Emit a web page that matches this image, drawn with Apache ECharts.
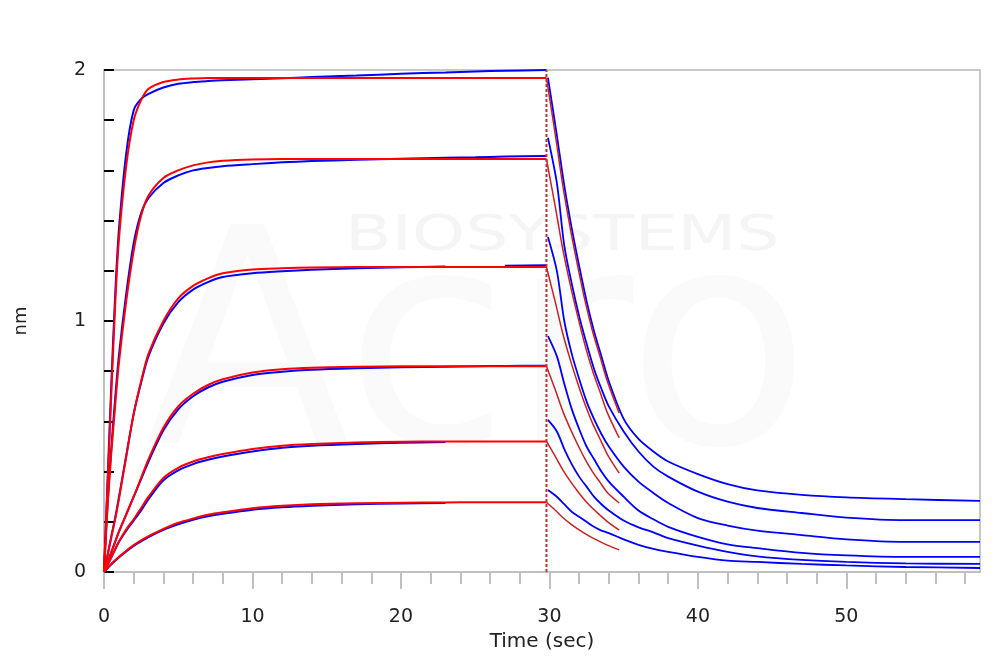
<!DOCTYPE html>
<html>
<head>
<meta charset="utf-8">
<script src="https://cdn.jsdelivr.net/npm/echarts@6/dist/echarts.min.js"></script>
<style>html,body{margin:0;padding:0;background:#fff}#c{width:1000px;height:669px}</style>
</head>
<body>
<div id="c"></div>
<script>
// ---- axis ticks / labels ----
const xMajorTicks = [0, 10, 20, 30, 40, 50];
const xMinorTicks = [0,2,4,6,8,10,12,14,16,18,20,22,24,26,28,30,32,34,36,38,40,42,44,46,48,50,52,54,56,58];
const yTickValues = [0,0.2,0.4,0.6,0.8,1,1.2,1.4,1.6,1.8,2];
const yLabelValues = [0, 1, 2];

// ---- association phase (time, sec) ----
const assocTime = [0,0.25,0.5,0.75,1,1.5,2,2.5,3,4,5,6,7,8,10,12,14,17,20,23,25,27,29.8];
// fitted (red)
const fitA1 = [0,0.36,0.72,1.06,1.32,1.62,1.80,1.88,1.925,1.952,1.962,1.966,1.968,1.968,1.968,1.968,1.968,1.968,1.968,1.968,1.968,1.968,1.968];
const fitA2 = [0,0.27,0.48,0.66,0.83,1.08,1.28,1.42,1.50,1.57,1.60,1.62,1.632,1.638,1.643,1.645,1.645,1.645,1.645,1.645,1.645,1.645,1.645];
const fitA3 = [0,0.07,0.14,0.21,0.29,0.46,0.63,0.76,0.87,1.00,1.09,1.14,1.17,1.19,1.205,1.21,1.213,1.215,1.215,1.215,1.215,1.215,1.215];
const fitA4 = [0,0.04,0.08,0.12,0.16,0.23,0.30,0.375,0.45,0.575,0.66,0.71,0.745,0.768,0.795,0.808,0.814,0.818,0.82,0.82,0.82,0.82,0.82];
const fitA5 = [0,0.03,0.06,0.09,0.12,0.17,0.21,0.255,0.30,0.375,0.415,0.44,0.457,0.47,0.49,0.503,0.51,0.516,0.519,0.52,0.52,0.52,0.52];
const fitA6 = [0,0.017,0.033,0.047,0.06,0.085,0.107,0.126,0.143,0.172,0.196,0.213,0.228,0.238,0.254,0.264,0.27,0.274,0.276,0.277,0.278,0.278,0.278];
// measured (blue)
const dataA1 = [0,0.38,0.76,1.10,1.36,1.67,1.84,1.885,1.905,1.93,1.945,1.952,1.956,1.959,1.963,1.967,1.972,1.978,1.985,1.99,1.994,1.997,2.0];
const dataA2 = [0,0.28,0.50,0.69,0.86,1.11,1.31,1.43,1.49,1.55,1.58,1.60,1.61,1.617,1.625,1.632,1.637,1.642,1.646,1.65,1.652,1.655,1.657];
const dataA3 = [0,0.07,0.145,0.215,0.295,0.465,0.63,0.755,0.86,0.99,1.075,1.125,1.155,1.175,1.19,1.198,1.204,1.21,1.214,1.217,null,1.22,1.222];
const dataA4 = [0,0.04,0.08,0.12,0.16,0.23,0.30,0.37,0.44,0.565,0.648,0.70,0.735,0.758,0.785,0.798,0.806,0.812,0.816,0.818,0.82,0.821,0.822];
const dataA5 = [0,0.03,0.06,0.09,0.12,0.165,0.205,0.245,0.29,0.365,0.405,0.43,0.447,0.46,0.48,0.495,0.503,0.51,0.515,0.518,null,null,null];
const dataA6 = [0,0.016,0.031,0.045,0.058,0.082,0.104,0.122,0.139,0.168,0.19,0.208,0.222,0.232,0.248,0.258,0.264,0.27,0.273,0.275,null,null,null];

// ---- dissociation phase ----
const fitDTime = [29.8,30.4,30.9,31.4,31.9,32.4,32.9,33.4,33.9,34.7];
const fitD1 = [1.968,1.74,1.54,1.37,1.22,1.08,0.96,0.86,0.76,0.633];
const fitD2 = [1.645,1.454,1.286,1.145,1.02,0.903,0.803,0.719,0.635,0.534];
const fitD3 = [1.215,1.074,0.95,0.846,0.753,0.667,0.593,0.531,0.469,0.394];
const fitD4 = [0.82,0.725,0.641,0.571,0.508,0.45,0.40,0.358,0.317,0.275];
const fitD5 = [0.52,0.46,0.407,0.362,0.322,0.285,0.254,0.227,0.201,0.167];
const fitD6 = [0.278,0.246,0.217,0.193,0.172,0.153,0.136,0.121,0.107,0.088];

const dataDTime = [29.9,30.5,31,31.5,32,32.5,33,33.5,34,35,36,37,38,40,42,44,47,50,54,59];
const dataD1 = [1.97,1.74,1.54,1.37,1.22,1.08,0.96,0.86,0.76,0.61,0.53,0.48,0.44,0.39,0.35,0.325,0.307,0.297,0.29,0.283];
const dataD2 = [1.73,1.55,1.30,1.15,1.02,0.91,0.81,0.73,0.66,0.56,0.48,0.42,0.38,0.32,0.28,0.255,0.235,0.217,0.207,0.207];
const dataD3 = [1.335,1.20,1.00,0.87,0.77,0.68,0.61,0.55,0.50,0.42,0.36,0.315,0.275,0.215,0.185,0.165,0.147,0.13,0.12,0.12];
const dataD4 = [0.94,0.86,0.75,0.65,0.57,0.50,0.45,0.40,0.36,0.30,0.245,0.21,0.18,0.14,0.11,0.095,0.076,0.066,0.06,0.06];
const dataD5 = [0.606,0.56,0.49,0.43,0.38,0.34,0.30,0.27,0.245,0.205,0.178,0.158,0.135,0.105,0.08,0.062,0.048,0.04,0.034,0.032];
const dataD6 = [0.327,0.30,0.27,0.24,0.22,0.20,0.18,0.165,0.155,0.13,0.108,0.092,0.08,0.06,0.045,0.04,0.032,0.026,0.02,0.016];

// phase boundary
const boundaryTime = [29.8, 29.8];
const boundaryY = [0, 2];

const FONT = 'DejaVu Sans';
const BLUE = '#0000ff';
const RED = '#ff0000';
const DRED = '#cc2020';

function pairs(t, v) { return t.map((x, i) => [x, v[i] == null ? '-' : v[i]]); }

function line(t, v, color, width, z) {
  return {
    type: 'line', data: pairs(t, v), showSymbol: false, symbol: 'none',
    smooth: 0.3, connectNulls: false, silent: true,
    lineStyle: { color: color, width: width }, z: z, animation: false
  };
}

const series = [];
[dataA1, dataA2, dataA3, dataA4, dataA5, dataA6].forEach(v => series.push(line(assocTime, v, BLUE, 2, 2)));
[dataD1, dataD2, dataD3, dataD4, dataD5, dataD6].forEach(v => series.push(line(dataDTime, v, BLUE, 1.8, 2)));
[fitA1, fitA2, fitA3, fitA4, fitA5, fitA6].forEach(v => series.push(line(assocTime, v, RED, 2, 3)));
[fitD1, fitD2, fitD3, fitD4, fitD5, fitD6].forEach(v => series.push(line(fitDTime, v, DRED, 1.5, 3)));
series.push({
  type: 'line', data: pairs(boundaryTime, boundaryY), showSymbol: false, symbol: 'none', silent: true,
  lineStyle: { color: '#c03030', width: 2, type: [3, 2] }, z: 4, animation: false
});

const chart = echarts.init(document.getElementById('c'), null, { renderer: 'canvas' });
chart.setOption({
  backgroundColor: '#ffffff',
  animation: false,
  graphic: [
    { type: 'text', left: 145, top: 215, z: -10, silent: true,
      style: { text: 'Acro', fontSize: 300, fontFamily: FONT, fill: '#fafafa' } },
    { type: 'text', left: 345, top: 212, z: -9, silent: true, scaleX: 1.36,
      style: { text: 'BIOSYSTEMS', fontSize: 50, fontFamily: FONT, fill: '#f5f5f5' } }
  ],
  grid: { left: 104, right: 20, top: 70, bottom: 97, show: true, borderColor: '#c8c8c8', borderWidth: 2, backgroundColor: 'transparent' },
  xAxis: [
    {
      type: 'value', min: 0, max: 59, position: 'bottom',
      name: 'Time (sec)', nameLocation: 'middle', nameGap: 60,
      nameTextStyle: { fontFamily: FONT, fontSize: 20, color: '#222' },
      axisLine: { show: true, lineStyle: { color: '#c0c0c0', width: 2 } },
      axisTick: { show: true, length: 17, customValues: xMajorTicks, lineStyle: { color: '#c0c0c0', width: 2 } },
      axisLabel: { show: true, customValues: xMajorTicks, margin: 36, fontFamily: FONT, fontSize: 19, color: '#222' },
      splitLine: { show: false }
    },
    {
      type: 'value', min: 0, max: 59, position: 'bottom',
      axisLine: { show: false },
      axisTick: { show: true, length: 12, customValues: xMinorTicks, lineStyle: { color: '#c0c0c0', width: 2 } },
      axisLabel: { show: false },
      splitLine: { show: false }
    }
  ],
  yAxis: {
    type: 'value', min: 0, max: 2,
    name: 'nm', nameLocation: 'middle', nameRotate: 90, nameGap: 74,
    nameTextStyle: { fontFamily: FONT, fontSize: 18, color: '#222' },
    axisLine: { show: true, lineStyle: { color: '#c0c0c0', width: 2 } },
    axisTick: { show: true, inside: true, length: 10, customValues: yTickValues, lineStyle: { color: '#000', width: 2 } },
    axisLabel: { show: true, customValues: yLabelValues, margin: 18, fontFamily: FONT, fontSize: 19, color: '#222' },
    splitLine: { show: false }
  },
  series: series
});
</script>
</body>
</html>
